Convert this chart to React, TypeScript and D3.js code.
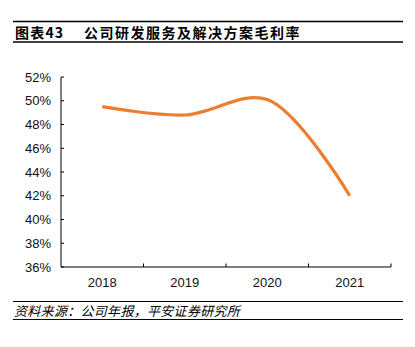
import React from "react";
import * as d3 from "d3";

const years = ["2018", "2019", "2020", "2021"];
const margins = [49.5, 48.8, 50.1, 42.0];
const yTicks = [36, 38, 40, 42, 44, 46, 48, 50, 52];

const W = 415;
const H = 347;
const FONT = "'Liberation Sans', Arial, Helvetica, sans-serif";
const CJK = "'Noto Sans CJK SC', 'Liberation Sans', sans-serif";

export default function App() {
  const x = d3.scaleBand<string>().domain(years).range([61, 391]).padding(0);
  const y = d3.scaleLinear().domain([36, 52]).range([267, 77]);
  const line = d3
    .line<number>()
    .x((_, i) => (x(years[i]) as number) + x.bandwidth() / 2)
    .y((d) => y(d))
    .curve(d3.curveCatmullRom.alpha(0.5));
  const boundaries = years.map((_, i) => 61 + x.bandwidth() * (i + 1));

  return (
    <svg
      width={W}
      height={H}
      style={{ position: "absolute", left: 0, top: 0, background: "#fff" }}
    >
      <line x1={13} x2={403} y1={21.5} y2={21.5} stroke="#000" strokeWidth={1.5} />
      <line x1={13} x2={403} y1={42} y2={42} stroke="#000" strokeWidth={1.5} />
      <text x={15} y={37.5} fontFamily={CJK} fontSize={14} fontWeight="bold" letterSpacing={1.2} fill="#000">
        图表43
      </text>
      <text x={84} y={37.5} fontFamily={CJK} fontSize={14} fontWeight="bold" letterSpacing={1.5} fill="#000">
        公司研发服务及解决方案毛利率
      </text>

      {/* y axis */}
      <line x1={61} x2={61} y1={y(52)} y2={y(36)} stroke="#000" strokeWidth={1} />
      {yTicks.map((t) => (
        <g key={t}>
          <line x1={61} x2={64} y1={y(t)} y2={y(t)} stroke="#000" strokeWidth={1} />
          <text
            x={51}
            y={y(t)}
            dy="0.35em"
            textAnchor="end"
            fontFamily={FONT}
            fontSize={13}
            fill="#111"
          >
            {t}%
          </text>
        </g>
      ))}

      {/* x axis */}
      <line x1={61} x2={391} y1={267} y2={267} stroke="#000" strokeWidth={1} />
      {boundaries.map((b, i) => (
        <line key={i} x1={b} x2={b} y1={267} y2={263.5} stroke="#000" strokeWidth={1} />
      ))}
      {years.map((yr) => (
        <text
          key={yr}
          x={(x(yr) as number) + x.bandwidth() / 2}
          y={287}
          textAnchor="middle"
          fontFamily={FONT}
          fontSize={13}
          fill="#111"
        >
          {yr}
        </text>
      ))}

      <path d={line(margins) || ""} fill="none" stroke="#ED7D31" strokeWidth={3.2} strokeLinecap="butt" />

      <line x1={13} x2={403} y1={301.5} y2={301.5} stroke="#000" strokeWidth={1.2} />
      <line x1={13} x2={403} y1={319.5} y2={319.5} stroke="#000" strokeWidth={1.2} />
      <text x={14} y={316} fontFamily={CJK} fontSize={13} fontStyle="italic" letterSpacing={0.3} fill="#000">
        资料来源：公司年报，平安证券研究所
      </text>
    </svg>
  );
}
